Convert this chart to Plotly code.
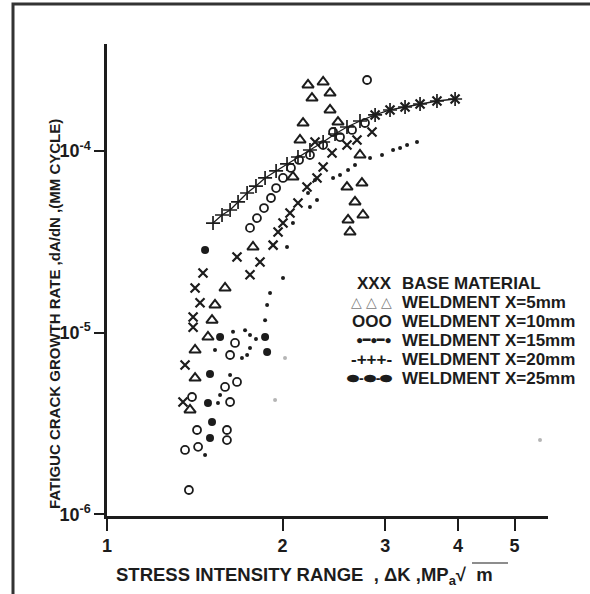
import plotly.graph_objects as go

# ---------------- data (ΔK in MPa√m, da/dN in mm/cycle) ----------------
base_k = [1.361, 1.350, 1.405, 1.405, 1.444, 1.416, 1.461, 1.671, 1.759, 1.830,
          1.927, 1.965, 2.004, 2.060, 2.126, 2.203, 2.292, 2.348, 2.432, 2.580,
          2.684, 2.848, 2.274, 2.883, 3.058, 3.245, 3.443, 3.681, 3.954]
base_r = [6.63e-6, 4.15e-6, 1.07e-5, 1.22e-5, 1.46e-5, 1.76e-5, 2.13e-5, 2.61e-5, 2.08e-5, 2.45e-5,
          3.03e-5, 3.58e-5, 4.01e-5, 4.55e-5, 5.17e-5, 6.33e-5, 7.10e-5, 8.16e-5, 9.74e-5, 1.078e-4,
          1.149e-4, 1.272e-4, 1.120e-4, 1.578e-4, 1.681e-4, 1.746e-4, 1.813e-4, 1.884e-4, 1.932e-4]

w5_k = [2.212, 2.348, 2.247, 2.413, 2.413, 2.169, 2.490, 2.143, 2.716, 2.084, 2.580, 2.737,
        2.663, 2.591, 2.748, 2.611, 1.780, 1.594, 1.532, 1.514, 1.490, 1.416, 1.416, 1.388]
w5_r = [2.308e-4, 2.397e-4, 1.956e-4, 2.084e-4, 1.681e-4, 1.425e-4, 1.443e-4, 1.149e-4, 9.50e-5,
        7.19e-5, 6.33e-5, 6.66e-5, 5.24e-5, 4.17e-5, 4.44e-5, 3.58e-5, 2.96e-5, 1.76e-5, 1.42e-5,
        1.17e-5, 9.46e-6, 8.02e-6, 5.62e-6, 3.75e-6]

w10_k = [1.759, 1.808, 1.859, 1.911, 1.950, 2.004, 2.068, 2.135, 2.229, 2.348, 2.442, 2.510,
         2.632, 2.770, 2.793, 1.658, 1.626, 1.671, 1.594, 1.626, 1.399, 1.427, 1.606, 1.606,
         1.433, 1.361, 1.382]
w10_r = [3.77e-5, 4.27e-5, 4.85e-5, 5.51e-5, 6.25e-5, 7.10e-5, 8.06e-5, 8.92e-5, 9.50e-5, 1.078e-4,
         1.272e-4, 1.193e-4, 1.305e-4, 1.425e-4, 2.458e-4, 8.77e-6, 7.53e-6, 5.35e-6, 5.02e-6,
         4.15e-6, 4.42e-6, 2.91e-6, 2.91e-6, 2.56e-6, 2.35e-6, 2.26e-6, 1.36e-6]

w15_k = [2.274, 2.212, 2.292, 2.229, 2.084, 2.442, 2.510, 2.591, 2.663, 2.826, 2.963, 3.095,
         3.182, 3.271, 3.402, 2.036, 2.004, 1.904, 1.882, 1.867, 1.645, 1.725, 1.759, 1.801,
         1.532, 1.759, 1.704, 1.739, 1.626, 1.563, 1.550, 1.473]
w15_r = [6.92e-5, 5.87e-5, 5.37e-5, 4.91e-5, 4.01e-5, 7.10e-5, 7.37e-5, 7.86e-5, 8.37e-5, 9.15e-5,
         9.50e-5, 1.012e-4, 1.038e-4, 1.078e-4, 1.120e-4, 2.96e-5, 2.00e-5, 1.65e-5, 1.42e-5,
         1.17e-5, 1.01e-5, 1.03e-5, 9.70e-6, 9.22e-6, 8.02e-6, 8.23e-6, 7.25e-6, 7.53e-6,
         5.84e-6, 4.53e-6, 4.10e-6, 2.12e-6]

faint_k = [2.020, 1.942, 5.53]
faint_r = [7.25e-6, 4.26e-6, 2.56e-6]

w20_k = [1.520, 1.575, 1.626, 1.678, 1.739, 1.801, 1.867, 1.950, 2.036, 2.126, 2.229, 2.348,
         2.461, 2.580, 2.716, 2.883, 3.058, 3.245, 3.443, 3.681, 3.954]
w20_r = [4.01e-5, 4.44e-5, 4.73e-5, 5.24e-5, 5.87e-5, 6.41e-5, 7.10e-5, 7.76e-5, 8.48e-5, 9.26e-5,
         1.012e-4, 1.120e-4, 1.240e-4, 1.355e-4, 1.462e-4, 1.578e-4, 1.681e-4, 1.746e-4, 1.813e-4,
         1.884e-4, 1.932e-4]

w25_k = [1.473, 1.563, 1.867, 1.882, 1.502, 1.490, 1.514, 1.502]
w25_r = [2.85e-5, 9.46e-6, 9.46e-6, 7.82e-6, 5.92e-6, 4.10e-6, 3.22e-6, 2.63e-6]

x_ticks = [1, 2, 3, 4, 5]
x_tick_text = ["1", "2", "3", "4", "5"]
y_ticks = [1e-6, 1e-5, 1e-4, 1e-3]
y_tick_text = ["10<sup>-6</sup>", "10<sup>-5</sup>", "10<sup>-4</sup>", "10<sup>-3</sup>"]

legend_symbols = ["XXX", "△ △ △", "OOO", "●━●━●", "-+++-", "⬬-⬬-⬬"]
legend_labels = ["BASE MATERIAL", "WELDMENT X=5mm", "WELDMENT X=10mm",
                 "WELDMENT X=15mm", "WELDMENT X=20mm", "WELDMENT X=25mm"]

x_title = "STRESS INTENSITY RANGE  , ΔK ,MP<sub>a</sub>√  m"
y_title = "FATIGUC CRACK GROWTH RATE ,dA/dN ,(MM CYCLE)"

# ---------------- layout geometry ----------------
W, H = 590, 594
ML, MR, MT, MB = 107, 42, 44, 78
PW, PH = W - ML - MR, H - MT - MB


def fx(px):
    return (px - ML) / PW


def fy(py):
    return (H - MB - py) / PH


INK = "#1c1c1c"
FONT = "Liberation Sans, Arial, sans-serif"

fig = go.Figure()

fig.add_trace(go.Scatter(x=w20_k, y=w20_r, mode="lines+markers", name="WELDMENT X=20mm",
                         line=dict(color=INK, width=1.3),
                         marker=dict(symbol="cross-thin-open", size=10, color=INK,
                                     line=dict(color=INK, width=1.7))))
fig.add_trace(go.Scatter(x=base_k, y=base_r, mode="markers", name="BASE MATERIAL",
                         marker=dict(symbol="x-thin-open", size=9, color=INK,
                                     line=dict(color=INK, width=2.2))))
fig.add_trace(go.Scatter(x=w5_k, y=w5_r, mode="markers", name="WELDMENT X=5mm",
                         marker=dict(symbol="triangle-up-open", size=10, color=INK,
                                     line=dict(color=INK, width=2))))
fig.add_trace(go.Scatter(x=w10_k, y=w10_r, mode="markers", name="WELDMENT X=10mm",
                         marker=dict(symbol="circle-open", size=8, color=INK,
                                     line=dict(color=INK, width=1.8))))
fig.add_trace(go.Scatter(x=w15_k, y=w15_r, mode="markers", name="WELDMENT X=15mm",
                         marker=dict(symbol="circle", size=4, color=INK)))
fig.add_trace(go.Scatter(x=faint_k, y=faint_r, mode="markers", name="faint",
                         marker=dict(symbol="circle", size=4, color="#b5b5b5")))
fig.add_trace(go.Scatter(x=w25_k, y=w25_r, mode="markers", name="WELDMENT X=25mm",
                         marker=dict(symbol="circle", size=8, color=INK)))

axis_common = dict(showgrid=False, zeroline=False, showline=True, linecolor=INK,
                   linewidth=2.5, ticks="outside", tickcolor=INK, tickwidth=2.2,
                   mirror=False)

fig.update_layout(
    width=W, height=H,
    margin=dict(l=ML, r=MR, t=MT, b=MB),
    paper_bgcolor="white", plot_bgcolor="white",
    showlegend=False,
    font=dict(family=FONT, color=INK),
    xaxis=dict(type="log", range=[0, 0.7564], tickvals=x_ticks, ticktext=x_tick_text,
               ticklen=12, tickfont=dict(size=18, family=FONT, color=INK, weight="bold"),
               **axis_common),
    yaxis=dict(type="log", range=[-6.0096, -3.4112], tickvals=y_ticks, ticktext=y_tick_text,
               ticklen=10, tickfont=dict(size=18, family=FONT, color=INK, weight="bold"),
               **axis_common),
)

annotations = []
# axis titles
annotations.append(dict(xref="paper", yref="paper", x=fx(54), y=fy(314), text=y_title,
                        textangle=-90, showarrow=False, xanchor="center", yanchor="middle",
                        font=dict(size=15, family=FONT, color=INK, weight="bold")))
annotations.append(dict(xref="paper", yref="paper", x=fx(114), y=fy(576), text=x_title,
                        showarrow=False, xanchor="left", yanchor="middle",
                        font=dict(size=18.5, family=FONT, color=INK, weight="bold")))

# legend built as text rows
row_y = [283, 302, 321, 340, 359, 378]
sym_sizes = [17, 14, 17, 12, 17, 14]
sym_colors = [INK, "#7a7a7a", INK, INK, INK, INK]
for sym, lab, yy, ss, sc in zip(legend_symbols, legend_labels, row_y, sym_sizes, sym_colors):
    annotations.append(dict(xref="paper", yref="paper", x=fx(394), y=fy(yy), text=sym,
                            showarrow=False, xanchor="right", yanchor="middle",
                            font=dict(size=ss, family=FONT, color=sc,
                                      weight="normal" if sc != INK else "bold")))
    annotations.append(dict(xref="paper", yref="paper", x=fx(400), y=fy(yy), text=lab,
                            showarrow=False, xanchor="left", yanchor="middle",
                            font=dict(size=17, family=FONT, color=INK, weight="bold")))
fig.update_layout(annotations=annotations)

# outer frame of the figure and overline of the square root
fig.add_shape(type="rect", xref="paper", yref="paper", x0=fx(13), y0=fy(610), x1=fx(610), y1=fy(4),
              line=dict(color="#333333", width=3), fillcolor="rgba(0,0,0,0)", layer="above")
fig.add_shape(type="line", xref="paper", yref="paper", x0=fx(472), y0=fy(563), x1=fx(508), y1=fy(563),
              line=dict(color=INK, width=1.2))

fig.write_html("out.html")
